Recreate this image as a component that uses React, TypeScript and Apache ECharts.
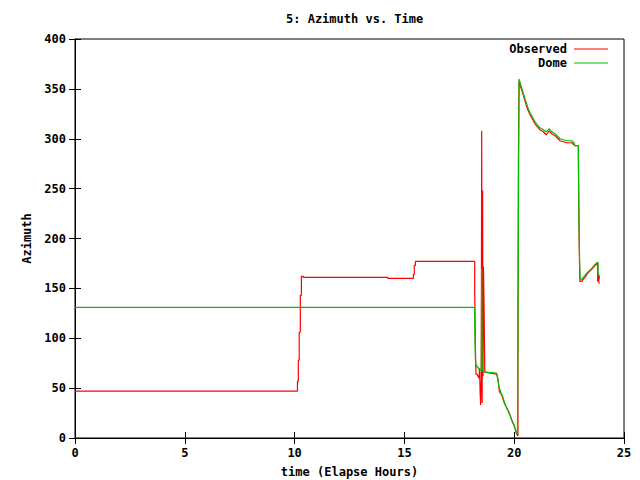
import React, { useEffect, useRef } from "react";
import * as echarts from "echarts";

const titleText = "5: Azimuth vs. Time";
const xName = "time (Elapse Hours)";
const yName = "Azimuth";
const seriesNames = ["Observed", "Dome"];

const observed: [number, number][] = [
  [0, 47], [10.13, 47], [10.13, 57], [10.17, 57], [10.17, 78], [10.21, 78], [10.21, 106], [10.26, 106],
  [10.26, 143], [10.31, 143], [10.31, 162], [10.4, 162], [10.4, 161], [14.24, 161], [14.24, 160],
  [15.41, 160], [15.41, 164], [15.45, 164], [15.45, 173], [15.5, 173], [15.5, 177], [18.2, 177],
  [18.2, 148], [18.23, 148], [18.23, 94], [18.26, 94], [18.26, 64], [18.3, 64], [18.35, 62],
  [18.4, 60], [18.42, 70], [18.45, 45], [18.47, 33], [18.5, 60], [18.52, 308], [18.54, 35],
  [18.56, 248], [18.58, 62], [18.6, 172], [18.63, 128], [18.66, 66], [19.2, 64], [19.27, 58],
  [19.32, 47], [19.43, 43], [19.55, 35], [19.66, 30], [19.76, 26], [19.89, 18], [19.99, 13],
  [20.08, 6], [20.14, 3], [20.17, 2], [20.17, 92], [20.19, 92], [20.19, 270], [20.22, 270],
  [20.22, 357], [20.26, 354], [20.34, 349], [20.41, 344], [20.49, 338], [20.57, 332], [20.64, 328],
  [20.72, 324], [20.8, 321], [20.87, 318], [20.95, 315], [21.02, 313], [21.1, 311], [21.17, 309],
  [21.33, 307], [21.45, 304], [21.6, 308], [21.71, 305], [21.86, 303], [22.09, 298], [22.39, 296],
  [22.62, 296], [22.72, 294], [22.77, 293], [22.92, 293], [22.93, 261], [22.96, 261], [22.96, 192],
  [22.99, 192], [22.99, 157], [23.07, 157], [23.22, 161], [23.38, 166], [23.53, 169], [23.68, 173],
  [23.78, 175], [23.8, 176], [23.8, 157], [23.83, 157], [23.83, 165], [23.86, 165], [23.86, 155],
  [23.88, 156],
];

const dome: [number, number][] = [
  [0, 131], [18.2, 131], [18.2, 119], [18.23, 119], [18.23, 80], [18.26, 80], [18.26, 73],
  [18.3, 73], [18.3, 71], [18.35, 71], [18.35, 70], [18.4, 70], [18.4, 68], [18.5, 68],
  [18.52, 170], [18.54, 68], [18.6, 67], [18.66, 66], [19.2, 65], [19.25, 60], [19.3, 52],
  [19.4, 45], [19.5, 40], [19.6, 33], [19.7, 28], [19.8, 23], [19.9, 17], [20.0, 12], [20.1, 6],
  [20.15, 4], [20.17, 4], [20.17, 92], [20.2, 92], [20.2, 270], [20.22, 270], [20.22, 360],
  [20.26, 357], [20.34, 351], [20.41, 346], [20.49, 340], [20.57, 335], [20.64, 330], [20.72, 326],
  [20.8, 323], [20.87, 320], [20.95, 317], [21.02, 315], [21.1, 313], [21.17, 311], [21.33, 309],
  [21.45, 307], [21.6, 310], [21.71, 307], [21.86, 305], [22.09, 300], [22.39, 298], [22.62, 298],
  [22.72, 296], [22.77, 293], [22.92, 293], [22.95, 215], [22.97, 215], [22.98, 179], [23.0, 160],
  [23.07, 159], [23.22, 163], [23.38, 167], [23.53, 170], [23.68, 174], [23.78, 176], [23.82, 176],
  [23.82, 163], [23.88, 163], [23.88, 159],
];

const FONT = "DejaVu Sans Mono";

export default function App() {
  const ref = useRef<HTMLDivElement>(null);
  useEffect(() => {
    if (!ref.current) return;
    const chart = echarts.init(ref.current, null, { renderer: "svg" });
    const txt = { fontFamily: FONT, fontSize: 12, fontWeight: "bold" as const, color: "#000" };
    const baseX = {
      type: "value" as const,
      min: 0,
      max: 25,
      interval: 5,
      axisLine: { show: true, lineStyle: { color: "#000", width: 1 } },
      axisTick: { show: true, inside: true, length: 6, lineStyle: { color: "#000" } },
      splitLine: { show: false },
    };
    const baseY = {
      type: "value" as const,
      min: 0,
      max: 400,
      interval: 50,
      axisLine: { show: true, lineStyle: { color: "#000", width: 1 } },
      axisTick: { show: true, inside: true, length: 6, lineStyle: { color: "#000" } },
      splitLine: { show: false },
    };
    chart.setOption({
      animation: false,
      backgroundColor: "#fff",
      title: {
        text: titleText,
        left: 281,
        top: 8,
        textStyle: { ...txt },
      },
      legend: {
        orient: "vertical",
        right: 27,
        top: 38,
        align: "right",
        icon: "path://M0,0H34V1.2H0Z",
        itemWidth: 34,
        itemHeight: 12,
        itemGap: 2,
        textStyle: { ...txt, padding: [0, 2, 0, 0] },
        data: seriesNames,
      },
      grid: {
        left: 75,
        right: 16,
        top: 39,
        bottom: 42,
        outerBoundsMode: "none",
        containLabel: false,
        show: true,
        borderColor: "#000",
        borderWidth: 1,
      },
      xAxis: [
        {
          ...baseX,
          position: "bottom",
          name: xName,
          nameLocation: "middle",
          nameGap: 28,
          nameTextStyle: { ...txt },
          axisLabel: { ...txt, margin: 9 },
        },
        { ...baseX, position: "top", axisLabel: { show: false } },
      ],
      yAxis: [
        {
          ...baseY,
          position: "left",
          name: yName,
          nameLocation: "middle",
          nameGap: 41,
          nameTextStyle: { ...txt },
          axisLabel: { ...txt, margin: 9 },
        },
        { ...baseY, position: "right", axisLabel: { show: false } },
      ],
      series: [
        {
          name: seriesNames[0],
          type: "line",
          data: observed,
          symbol: "none",
          lineStyle: { color: "#ff0000", width: 1.2 },
          itemStyle: { color: "#ff0000" },
        },
        {
          name: seriesNames[1],
          type: "line",
          data: dome,
          symbol: "none",
          lineStyle: { color: "#00c000", width: 1.2 },
          itemStyle: { color: "#00c000" },
        },
      ],
    });
    return () => chart.dispose();
  }, []);
  return <div ref={ref} style={{ width: 640, height: 480, position: "fixed", left: 0, top: 0 }} />;
}
